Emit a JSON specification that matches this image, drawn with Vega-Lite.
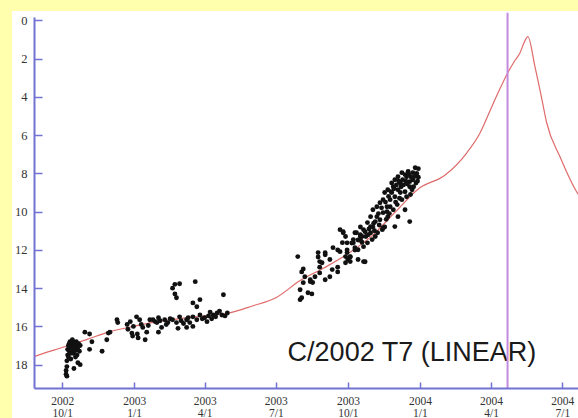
{
  "$schema": "https://vega.github.io/schema/vega-lite/v6.json",
  "width": 544,
  "height": 371,
  "autosize": {"type": "none"},
  "padding": {"left": 34, "top": 17, "right": 0, "bottom": 30},
  "background": "#FFFFAD",
  "config": {
    "view": {"stroke": null},
    "axis": {
      "grid": false,
      "domainColor": "#7272d2",
      "domainWidth": 2,
      "tickColor": "#7272d2",
      "tickWidth": 1.5,
      "labelFont": "Liberation Serif",
      "labelFontSize": 12.5,
      "labelColor": "#333333",
      "labelOverlap": false,
      "labelFlush": false,
      "labelBound": false
    }
  },
  "datasets": {
    "curve": [
      {"date": "2002-08-10", "mag": 17.85},
      {"date": "2002-08-26", "mag": 17.58},
      {"date": "2002-10-01", "mag": 17.1},
      {"date": "2002-11-01", "mag": 16.69},
      {"date": "2002-12-01", "mag": 16.27},
      {"date": "2003-01-01", "mag": 15.99},
      {"date": "2003-02-01", "mag": 15.74},
      {"date": "2003-03-01", "mag": 15.59},
      {"date": "2003-04-01", "mag": 15.45},
      {"date": "2003-05-01", "mag": 15.31},
      {"date": "2003-06-01", "mag": 14.93},
      {"date": "2003-07-01", "mag": 14.5},
      {"date": "2003-08-01", "mag": 13.6},
      {"date": "2003-09-01", "mag": 12.93},
      {"date": "2003-10-01", "mag": 12.2},
      {"date": "2003-11-01", "mag": 11.25},
      {"date": "2003-12-01", "mag": 10.0},
      {"date": "2004-01-01", "mag": 8.75},
      {"date": "2004-02-01", "mag": 8.12},
      {"date": "2004-03-01", "mag": 6.92},
      {"date": "2004-03-18", "mag": 5.87},
      {"date": "2004-04-01", "mag": 4.59},
      {"date": "2004-04-10", "mag": 3.77},
      {"date": "2004-04-23", "mag": 2.68},
      {"date": "2004-05-01", "mag": 2.12},
      {"date": "2004-05-08", "mag": 1.69},
      {"date": "2004-05-13", "mag": 1.17},
      {"date": "2004-05-18", "mag": 0.85},
      {"date": "2004-05-27", "mag": 2.42},
      {"date": "2004-06-05", "mag": 4.15},
      {"date": "2004-06-11", "mag": 5.35},
      {"date": "2004-06-28", "mag": 7.13},
      {"date": "2004-07-20", "mag": 9.01},
      {"date": "2004-07-31", "mag": 9.6}
    ],
    "obs": [
      {"date": "2002-10-06", "mag": 18.5}, {"date": "2002-10-06", "mag": 18.3}, {"date": "2002-10-07", "mag": 18.1}, {"date": "2002-10-07", "mag": 17.8},
      {"date": "2002-10-07", "mag": 18.6}, {"date": "2002-10-08", "mag": 17.5}, {"date": "2002-10-08", "mag": 17.2}, {"date": "2002-10-09", "mag": 17.0},
      {"date": "2002-10-09", "mag": 17.6}, {"date": "2002-10-10", "mag": 16.9}, {"date": "2002-10-10", "mag": 17.3}, {"date": "2002-10-11", "mag": 16.8},
      {"date": "2002-10-11", "mag": 17.1}, {"date": "2002-10-12", "mag": 17.4}, {"date": "2002-10-12", "mag": 17.7}, {"date": "2002-10-13", "mag": 16.9},
      {"date": "2002-10-13", "mag": 17.2}, {"date": "2002-10-14", "mag": 16.7}, {"date": "2002-10-14", "mag": 17.0}, {"date": "2002-10-15", "mag": 17.4},
      {"date": "2002-10-15", "mag": 16.8}, {"date": "2002-10-16", "mag": 17.1}, {"date": "2002-10-16", "mag": 18.2}, {"date": "2002-10-17", "mag": 16.9},
      {"date": "2002-10-17", "mag": 17.3}, {"date": "2002-10-18", "mag": 17.6}, {"date": "2002-10-18", "mag": 17.0}, {"date": "2002-10-19", "mag": 16.8},
      {"date": "2002-10-19", "mag": 17.2}, {"date": "2002-10-20", "mag": 17.5}, {"date": "2002-10-21", "mag": 17.9}, {"date": "2002-10-21", "mag": 17.1},
      {"date": "2002-10-22", "mag": 16.9}, {"date": "2002-10-23", "mag": 17.3}, {"date": "2002-10-24", "mag": 17.0}, {"date": "2002-10-24", "mag": 18.0},
      {"date": "2002-10-30", "mag": 16.3}, {"date": "2002-11-05", "mag": 16.4}, {"date": "2002-11-08", "mag": 16.8}, {"date": "2002-11-05", "mag": 17.2},
      {"date": "2002-11-21", "mag": 17.3}, {"date": "2002-11-27", "mag": 16.7}, {"date": "2002-11-29", "mag": 16.35}, {"date": "2002-12-01", "mag": 16.3},
      {"date": "2002-12-10", "mag": 15.65}, {"date": "2002-12-11", "mag": 15.8}, {"date": "2002-12-23", "mag": 15.9}, {"date": "2002-12-24", "mag": 16.15},
      {"date": "2002-12-27", "mag": 15.75}, {"date": "2002-12-29", "mag": 16.35}, {"date": "2002-12-30", "mag": 16.5}, {"date": "2002-12-31", "mag": 16.0},
      {"date": "2003-01-04", "mag": 15.5}, {"date": "2003-01-05", "mag": 16.4}, {"date": "2003-01-06", "mag": 16.6}, {"date": "2003-01-08", "mag": 15.65},
      {"date": "2003-01-10", "mag": 15.9}, {"date": "2003-01-12", "mag": 16.05}, {"date": "2003-01-15", "mag": 16.7}, {"date": "2003-01-17", "mag": 16.3},
      {"date": "2003-01-19", "mag": 15.95}, {"date": "2003-01-21", "mag": 15.65}, {"date": "2003-01-25", "mag": 15.65}, {"date": "2003-01-28", "mag": 15.75},
      {"date": "2003-01-30", "mag": 15.8}, {"date": "2003-02-01", "mag": 16.3}, {"date": "2003-02-01", "mag": 15.55}, {"date": "2003-02-03", "mag": 15.7},
      {"date": "2003-02-05", "mag": 16.05}, {"date": "2003-02-09", "mag": 15.65}, {"date": "2003-02-11", "mag": 15.9}, {"date": "2003-02-13", "mag": 15.8},
      {"date": "2003-02-16", "mag": 15.6}, {"date": "2003-02-19", "mag": 15.65}, {"date": "2003-02-24", "mag": 15.8}, {"date": "2003-02-26", "mag": 16.1},
      {"date": "2003-02-28", "mag": 15.5}, {"date": "2003-03-02", "mag": 15.7}, {"date": "2003-03-05", "mag": 15.85}, {"date": "2003-03-09", "mag": 15.65},
      {"date": "2003-03-09", "mag": 16.05}, {"date": "2003-03-11", "mag": 15.55}, {"date": "2003-03-13", "mag": 15.8}, {"date": "2003-03-17", "mag": 15.5},
      {"date": "2003-03-17", "mag": 16.0}, {"date": "2003-03-22", "mag": 15.65}, {"date": "2003-03-26", "mag": 15.4}, {"date": "2003-03-29", "mag": 15.6},
      {"date": "2003-04-01", "mag": 15.55}, {"date": "2003-04-04", "mag": 15.75}, {"date": "2003-04-06", "mag": 15.45}, {"date": "2003-04-08", "mag": 15.25},
      {"date": "2003-04-10", "mag": 15.6}, {"date": "2003-04-12", "mag": 15.4}, {"date": "2003-04-15", "mag": 15.5}, {"date": "2003-04-17", "mag": 15.3},
      {"date": "2003-04-20", "mag": 15.2}, {"date": "2003-04-23", "mag": 15.4}, {"date": "2003-04-27", "mag": 15.45}, {"date": "2003-04-30", "mag": 15.3},
      {"date": "2003-02-19", "mag": 14.0}, {"date": "2003-02-22", "mag": 13.8}, {"date": "2003-02-28", "mag": 13.77}, {"date": "2003-02-22", "mag": 14.3},
      {"date": "2003-02-24", "mag": 14.5}, {"date": "2003-03-20", "mag": 13.66}, {"date": "2003-03-17", "mag": 14.77}, {"date": "2003-03-22", "mag": 14.97},
      {"date": "2003-03-26", "mag": 14.6}, {"date": "2003-04-25", "mag": 14.34},
      {"date": "2003-07-29", "mag": 12.35}, {"date": "2003-08-01", "mag": 14.6}, {"date": "2003-08-01", "mag": 14.08}, {"date": "2003-08-03", "mag": 13.15},
      {"date": "2003-08-03", "mag": 14.5}, {"date": "2003-08-05", "mag": 13.71}, {"date": "2003-08-05", "mag": 13.0}, {"date": "2003-08-07", "mag": 13.4},
      {"date": "2003-08-11", "mag": 14.24}, {"date": "2003-08-14", "mag": 13.56}, {"date": "2003-08-14", "mag": 13.66}, {"date": "2003-08-16", "mag": 14.3},
      {"date": "2003-08-17", "mag": 13.7}, {"date": "2003-08-20", "mag": 13.4}, {"date": "2003-08-24", "mag": 12.14}, {"date": "2003-08-24", "mag": 12.37},
      {"date": "2003-08-26", "mag": 13.2}, {"date": "2003-08-26", "mag": 12.61}, {"date": "2003-08-26", "mag": 12.9}, {"date": "2003-08-29", "mag": 12.67},
      {"date": "2003-09-02", "mag": 13.56}, {"date": "2003-09-02", "mag": 12.25}, {"date": "2003-09-02", "mag": 12.15}, {"date": "2003-09-08", "mag": 13.4},
      {"date": "2003-09-08", "mag": 12.5}, {"date": "2003-09-11", "mag": 13.03}, {"date": "2003-09-12", "mag": 11.88}, {"date": "2003-09-18", "mag": 13.15},
      {"date": "2003-09-18", "mag": 12.9}, {"date": "2003-09-18", "mag": 12.0}, {"date": "2003-09-21", "mag": 12.09}, {"date": "2003-09-21", "mag": 10.94},
      {"date": "2003-09-24", "mag": 11.62}, {"date": "2003-09-25", "mag": 11.05}, {"date": "2003-09-25", "mag": 11.1}, {"date": "2003-09-28", "mag": 12.35},
      {"date": "2003-09-28", "mag": 12.67}, {"date": "2003-09-28", "mag": 11.3}, {"date": "2003-09-30", "mag": 12.0}, {"date": "2003-09-30", "mag": 12.14},
      {"date": "2003-09-30", "mag": 11.63}, {"date": "2003-10-01", "mag": 12.5}, {"date": "2003-10-04", "mag": 12.61}, {"date": "2003-10-04", "mag": 12.37},
      {"date": "2003-10-06", "mag": 11.64}, {"date": "2003-10-08", "mag": 11.46}, {"date": "2003-10-10", "mag": 12.0}, {"date": "2003-10-10", "mag": 11.1},
      {"date": "2003-10-14", "mag": 11.48}, {"date": "2003-10-17", "mag": 11.2}, {"date": "2003-10-17", "mag": 10.8}, {"date": "2003-10-19", "mag": 11.3},
      {"date": "2003-10-21", "mag": 12.61}, {"date": "2003-10-23", "mag": 12.62},
      {"date": "2003-12-19", "mag": 10.52}, {"date": "2003-12-04", "mag": 10.26}, {"date": "2003-12-13", "mag": 9.9}, {"date": "2003-10-14", "mag": 11.99},
      {"date": "2003-10-08", "mag": 11.63}, {"date": "2003-10-30", "mag": 11.1}, {"date": "2003-11-02", "mag": 10.8}, {"date": "2003-11-07", "mag": 10.26},
      {"date": "2003-11-11", "mag": 10.42}, {"date": "2003-11-15", "mag": 10.05}, {"date": "2003-11-20", "mag": 9.74}, {"date": "2003-11-24", "mag": 9.37},
      {"date": "2003-11-26", "mag": 9.0}, {"date": "2003-11-28", "mag": 8.7}, {"date": "2003-12-04", "mag": 8.85}, {"date": "2003-12-07", "mag": 8.5},
      {"date": "2003-12-10", "mag": 8.33}, {"date": "2003-12-15", "mag": 8.17}, {"date": "2003-12-19", "mag": 8.43}, {"date": "2003-12-23", "mag": 7.96},
      {"date": "2003-12-26", "mag": 7.7}, {"date": "2003-12-22", "mag": 8.85}, {"date": "2003-12-15", "mag": 9.22}, {"date": "2003-12-09", "mag": 9.37},
      {"date": "2003-12-03", "mag": 9.63}, {"date": "2003-11-28", "mag": 9.9}, {"date": "2003-11-21", "mag": 10.26}, {"date": "2003-11-17", "mag": 10.8},
      {"date": "2003-11-14", "mag": 10.94}, {"date": "2003-11-08", "mag": 11.1}, {"date": "2003-11-05", "mag": 11.3}, {"date": "2003-11-01", "mag": 11.46},
      {"date": "2003-10-26", "mag": 11.63}, {"date": "2003-10-21", "mag": 11.83}, {"date": "2003-10-17", "mag": 11.3}, {"date": "2003-10-12", "mag": 11.1},
      {"date": "2003-10-21", "mag": 10.94}, {"date": "2003-10-26", "mag": 10.57}, {"date": "2003-10-30", "mag": 10.26}, {"date": "2003-11-02", "mag": 9.9},
      {"date": "2003-11-07", "mag": 9.74}, {"date": "2003-11-11", "mag": 9.53}, {"date": "2003-11-15", "mag": 9.37}, {"date": "2003-11-17", "mag": 9.0},
      {"date": "2003-11-21", "mag": 8.85}, {"date": "2003-11-26", "mag": 8.5}, {"date": "2003-11-30", "mag": 8.33}, {"date": "2003-12-04", "mag": 8.17},
      {"date": "2003-12-09", "mag": 7.96}, {"date": "2003-12-13", "mag": 8.06}, {"date": "2003-12-17", "mag": 7.9}, {"date": "2003-12-23", "mag": 8.33},
      {"date": "2003-12-19", "mag": 8.7}, {"date": "2003-12-13", "mag": 8.96}, {"date": "2003-12-07", "mag": 9.0}, {"date": "2003-11-30", "mag": 9.22},
      {"date": "2003-11-24", "mag": 9.74}, {"date": "2003-11-20", "mag": 10.0}, {"date": "2003-11-30", "mag": 10.78}, {"date": "2003-11-15", "mag": 10.85},
      {"date": "2003-11-05", "mag": 10.52}, {"date": "2003-10-30", "mag": 10.78}, {"date": "2003-10-23", "mag": 11.05}, {"date": "2003-10-17", "mag": 11.46},
      {"date": "2003-10-10", "mag": 11.88}, {"date": "2003-10-04", "mag": 12.35}, {"date": "2003-10-14", "mag": 12.5},
      {"date": "2003-12-28", "mag": 8.0}, {"date": "2003-12-30", "mag": 7.75}, {"date": "2003-12-30", "mag": 8.2}, {"date": "2003-12-27", "mag": 8.5},
      {"date": "2003-12-24", "mag": 8.7}, {"date": "2003-12-20", "mag": 9.1}, {"date": "2003-12-26", "mag": 8.15}, {"date": "2003-12-29", "mag": 8.4},
      {"date": "2003-10-28", "mag": 10.9}, {"date": "2003-11-03", "mag": 10.6}, {"date": "2003-11-09", "mag": 10.1}, {"date": "2003-11-13", "mag": 9.8},
      {"date": "2003-11-18", "mag": 9.5}, {"date": "2003-11-22", "mag": 9.2}, {"date": "2003-11-25", "mag": 8.95}, {"date": "2003-11-29", "mag": 8.8},
      {"date": "2003-12-02", "mag": 8.6}, {"date": "2003-12-05", "mag": 8.4}, {"date": "2003-12-08", "mag": 8.7}, {"date": "2003-12-11", "mag": 8.6},
      {"date": "2003-12-14", "mag": 8.4}, {"date": "2003-12-16", "mag": 8.55}, {"date": "2003-12-18", "mag": 8.05}, {"date": "2003-12-21", "mag": 8.2},
      {"date": "2003-10-24", "mag": 11.3}, {"date": "2003-10-19", "mag": 11.6}, {"date": "2003-10-27", "mag": 11.2}, {"date": "2003-11-04", "mag": 11.0},
      {"date": "2003-11-10", "mag": 10.7}, {"date": "2003-11-19", "mag": 10.4}, {"date": "2003-11-23", "mag": 10.1}, {"date": "2003-12-01", "mag": 9.5},
      {"date": "2003-12-06", "mag": 9.3}
    ]
  },
  "layer": [
    {
      "data": {"values": [{}]},
      "mark": {"type": "rect", "color": "#ffffff"},
      "encoding": {
        "x": {
          "datum": {"year": 2002, "month": 7, "date": 29, "utc": true},
          "type": "temporal",
          "title": null,
          "scale": {
            "type": "utc",
            "domain": [{"year": 2002, "month": 8, "date": 26, "utc": true}, {"year": 2004, "month": 7, "date": 21, "utc": true}],
            "nice": false
          },
          "axis": {
            "title": null,
            "zindex": 2,
            "values": [
              {"year": 2002, "month": 10, "date": 1, "utc": true},
              {"year": 2003, "month": 1, "date": 1, "utc": true},
              {"year": 2003, "month": 4, "date": 1, "utc": true},
              {"year": 2003, "month": 7, "date": 1, "utc": true},
              {"year": 2003, "month": 10, "date": 1, "utc": true},
              {"year": 2004, "month": 1, "date": 1, "utc": true},
              {"year": 2004, "month": 4, "date": 1, "utc": true},
              {"year": 2004, "month": 7, "date": 1, "utc": true}
            ],
            "labelExpr": "[utcFormat(datum.value, '%Y'), utcFormat(datum.value, '%-m') + '/1']",
            "tickSize": -6,
            "labelPadding": 13,
            "labelBaseline": "top",
            "labelLineHeight": 12,
            "labelFontSize": 11.5
          }
        },
        "x2": {"datum": {"year": 2004, "month": 9, "date": 1, "utc": true}},
        "y": {
          "datum": -0.5,
          "type": "quantitative",
          "title": null,
          "scale": {"domain": [-0.18, 19.22], "reverse": true, "nice": false, "zero": false},
          "axis": {
            "title": null,
            "zindex": 2,
            "values": [0, 2, 4, 6, 8, 10, 12, 14, 16, 18],
            "tickSize": -8,
            "labelPadding": 15
          }
        },
        "y2": {"datum": 21}
      }
    },
    {
      "data": {"name": "curve"},
      "mark": {"type": "line", "color": "#e06a6a", "strokeWidth": 1.2, "interpolate": "monotone", "clip": true},
      "encoding": {
        "x": {"field": "date", "type": "temporal", "title": null, "scale": {"type": "utc"}},
        "y": {"field": "mag", "type": "quantitative", "title": null}
      }
    },
    {
      "data": {"name": "obs"},
      "mark": {"type": "circle", "color": "#111111", "size": 24, "opacity": 1},
      "encoding": {
        "x": {"field": "date", "type": "temporal", "title": null, "scale": {"type": "utc"}},
        "y": {"field": "mag", "type": "quantitative", "title": null}
      }
    },
    {
      "data": {"values": [{"label": "C/2002 T7 (LINEAR)"}]},
      "mark": {"type": "text", "font": "Liberation Sans", "fontSize": 27, "color": "#1a1a1a", "align": "left", "baseline": "alphabetic"},
      "encoding": {
        "x": {"datum": {"year": 2003, "month": 7, "date": 16, "utc": true}, "type": "temporal", "title": null},
        "y": {"datum": 17.8, "type": "quantitative", "title": null},
        "text": {"field": "label"}
      }
    },
    {
      "data": {"values": [{}]},
      "mark": {"type": "rule", "color": "#c48ae0", "strokeWidth": 2},
      "encoding": {
        "x": {"datum": {"year": 2004, "month": 4, "date": 22, "utc": true}, "type": "temporal", "title": null},
        "y": {"datum": -0.4, "type": "quantitative", "title": null},
        "y2": {"datum": 19.22}
      }
    }
  ]
}
